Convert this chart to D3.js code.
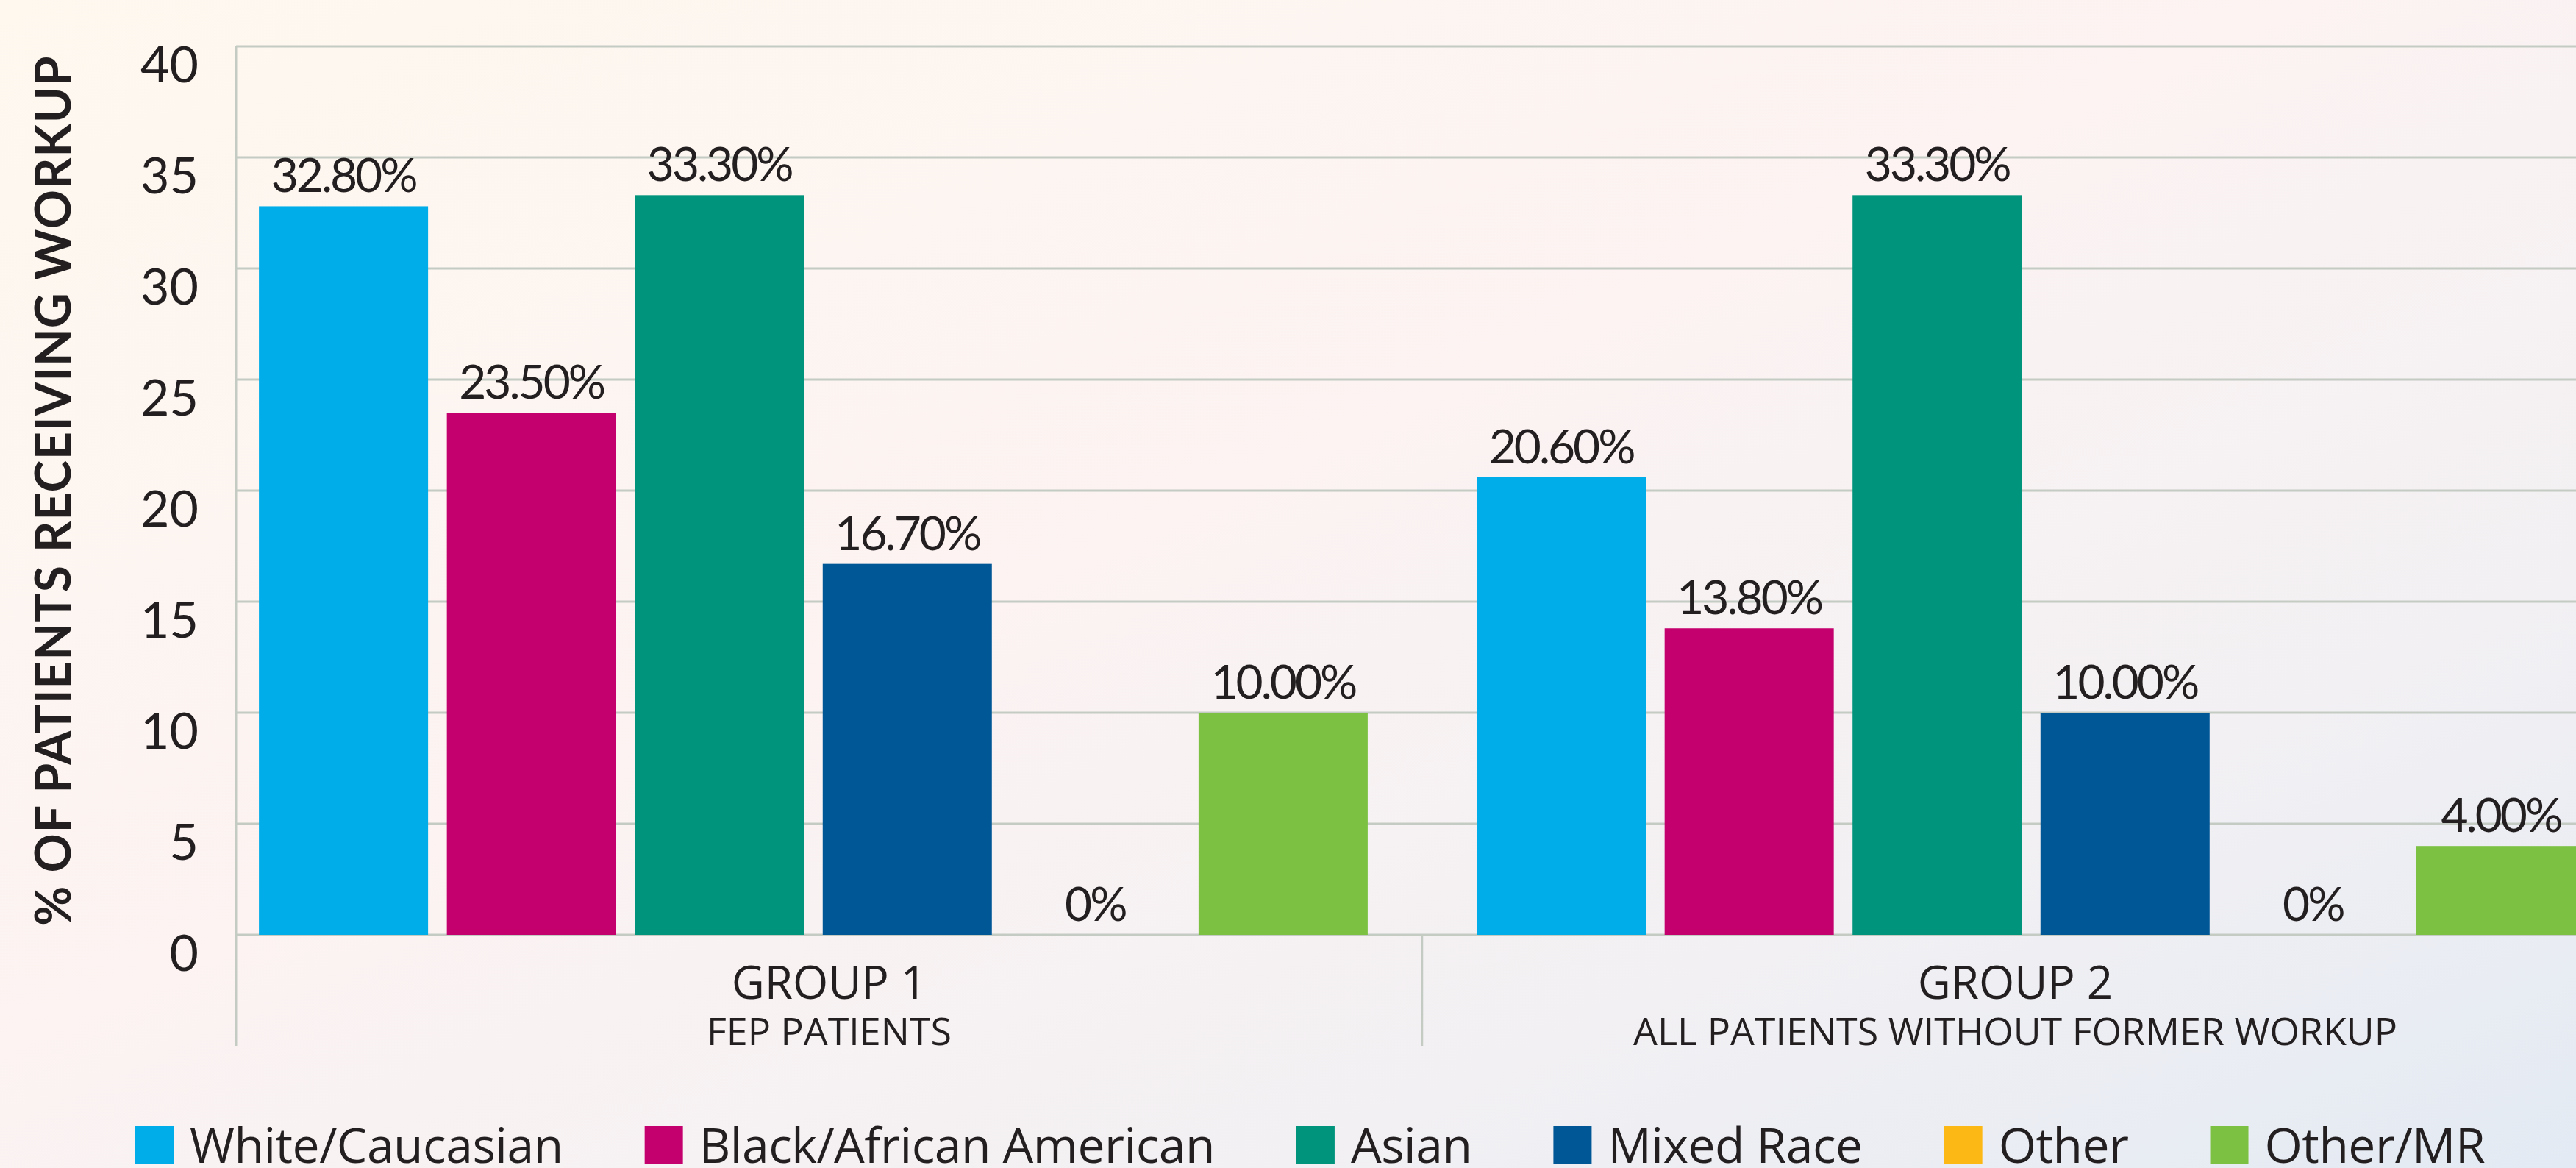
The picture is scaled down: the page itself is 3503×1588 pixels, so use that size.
<!DOCTYPE html>
<html>
<head>
<meta charset="utf-8">
<script src="https://cdn.jsdelivr.net/npm/d3@7/dist/d3.min.js"></script>
<style>
  html, body { margin: 0; padding: 0; overflow: hidden; }
  svg { display: block; }
</style>
</head>
<body>
<svg id="chart" width="3503" height="1588"></svg>
<script>
// ---------- data ----------
const groups = ["GROUP 1", "GROUP 2"];
const groupSubtitles = ["FEP PATIENTS", "ALL PATIENTS WITHOUT FORMER WORKUP"];
const series = ["White/Caucasian", "Black/African American", "Asian", "Mixed Race", "Other", "Other/MR"];
const group1Values = [32.8, 23.5, 33.3, 16.7, 0, 10.0];
const group2Values = [20.6, 13.8, 33.3, 10.0, 0, 4.0];
const valueLabels1 = ["32.80%", "23.50%", "33.30%", "16.70%", "0%", "10.00%"];
const valueLabels2 = ["20.60%", "13.80%", "33.30%", "10.00%", "0%", "4.00%"];
const yTicks = [0, 5, 10, 15, 20, 25, 30, 35, 40];
const yTitle = "% OF PATIENTS RECEIVING WORKUP";
const seriesColors = ["#00ade9", "#c4006e", "#00947c", "#005796", "#fcb814", "#7cc142"];

// ---------- setup ----------
const W = 3503, H = 1588;
const svg = d3.select("#chart");
const textColor = "#231f20";
const gridColor = "#c3cbc3";
const numFont = "Lato, 'Open Sans', sans-serif";
const labFont = "'Open Sans', 'Noto Sans', sans-serif";

// background gradient
const defs = svg.append("defs");
const bg = defs.append("linearGradient").attr("id", "bg")
  .attr("x1", "0").attr("y1", "0").attr("x2", "1").attr("y2", "1");
bg.append("stop").attr("offset", "0").attr("stop-color", "#fef8ef");
bg.append("stop").attr("offset", "0.45").attr("stop-color", "#fcf3f2");
bg.append("stop").attr("offset", "0.75").attr("stop-color", "#f2f0f3");
bg.append("stop").attr("offset", "1").attr("stop-color", "#e3eaf3");
svg.append("rect").attr("width", W).attr("height", H).attr("fill", "url(#bg)");

const axisX = 321;
const y = d3.scaleLinear().domain([0, 40]).range([1271, 63]);

// bar positions
const x0 = d3.scaleBand().domain(groups).range([278, 3590]).padding(0);
const x1 = d3.scaleBand().domain(series).range([0, x0.bandwidth()])
  .paddingInner(0.1).paddingOuter(0.29);
// label positions (category area between axis lines)
const xLab = d3.scaleBand().domain(groups).range([axisX, 3547]).padding(0);

// gridlines
svg.append("g").selectAll("line").data(yTicks).join("line")
  .attr("x1", axisX).attr("x2", W)
  .attr("y1", d => y(d)).attr("y2", d => y(d))
  .attr("stroke", gridColor).attr("stroke-width", 3);

// y axis line
svg.append("line").attr("x1", axisX).attr("x2", axisX)
  .attr("y1", y(40) - 1).attr("y2", 1422)
  .attr("stroke", gridColor).attr("stroke-width", 3);

// group divider
svg.append("line").attr("x1", xLab("GROUP 2")).attr("x2", xLab("GROUP 2"))
  .attr("y1", y(0)).attr("y2", 1422)
  .attr("stroke", gridColor).attr("stroke-width", 2.5);

// y tick labels (hang below gridline)
svg.append("g").selectAll("text").data(yTicks).join("text")
  .attr("x", 270).attr("y", d => y(d) + 49)
  .attr("text-anchor", "end")
  .attr("font-family", numFont).attr("font-size", 68)
  .attr("fill", textColor)
  .text(d => d);

// y title
svg.append("text")
  .attr("transform", `translate(96, ${(y(40) + y(0)) / 2}) rotate(-90)`)
  .attr("text-anchor", "middle")
  .attr("font-family", numFont).attr("font-weight", 700).attr("font-size", 66)
  .attr("letter-spacing", 1)
  .attr("fill", textColor)
  .text(yTitle);

// bars
const data = [
  { g: groups[0], vals: group1Values, labs: valueLabels1 },
  { g: groups[1], vals: group2Values, labs: valueLabels2 }
];
const gG = svg.append("g").selectAll("g").data(data).join("g")
  .attr("transform", d => `translate(${x0(d.g)},0)`);

gG.selectAll("rect").data(d => d.vals.map((v, i) => ({ s: series[i], v, i }))).join("rect")
  .attr("x", d => x1(d.s)).attr("width", x1.bandwidth())
  .attr("y", d => y(d.v)).attr("height", d => y(0) - y(d.v))
  .attr("fill", d => seriesColors[d.i]);

gG.selectAll("text").data(d => d.vals.map((v, i) => ({ s: series[i], v, lab: d.labs[i] }))).join("text")
  .attr("x", d => x1(d.s) + x1.bandwidth() / 2)
  .attr("y", d => y(d.v) - 19)
  .attr("text-anchor", "middle")
  .attr("font-family", numFont).attr("font-size", 64)
  .attr("letter-spacing", -3)
  .attr("fill", textColor)
  .text(d => d.lab);

// group labels
svg.append("g").selectAll("text").data(groups).join("text")
  .attr("x", d => xLab(d) + xLab.bandwidth() / 2).attr("y", 1358)
  .attr("text-anchor", "middle")
  .attr("font-family", labFont).attr("font-size", 62)
  .attr("fill", textColor)
  .text(d => d);
svg.append("g").selectAll("text").data(groupSubtitles).join("text")
  .attr("x", (d, i) => xLab(groups[i]) + xLab.bandwidth() / 2).attr("y", 1421)
  .attr("text-anchor", "middle")
  .attr("font-family", labFont).attr("font-size", 52)
  .attr("fill", textColor)
  .text(d => d);

// legend
const legend = svg.append("g");
let lx = 184;
series.forEach((s, i) => {
  legend.append("rect").attr("x", lx).attr("y", 1531).attr("width", 52).attr("height", 52)
    .attr("fill", seriesColors[i]);
  const t = legend.append("text").attr("x", lx + 74).attr("y", 1581)
    .attr("font-family", labFont).attr("font-size", 66)
    .attr("letter-spacing", -0.5)
    .attr("fill", textColor).text(s);
  lx = lx + 74 + t.node().getComputedTextLength() + 111;
});
</script>
</body>
</html>
